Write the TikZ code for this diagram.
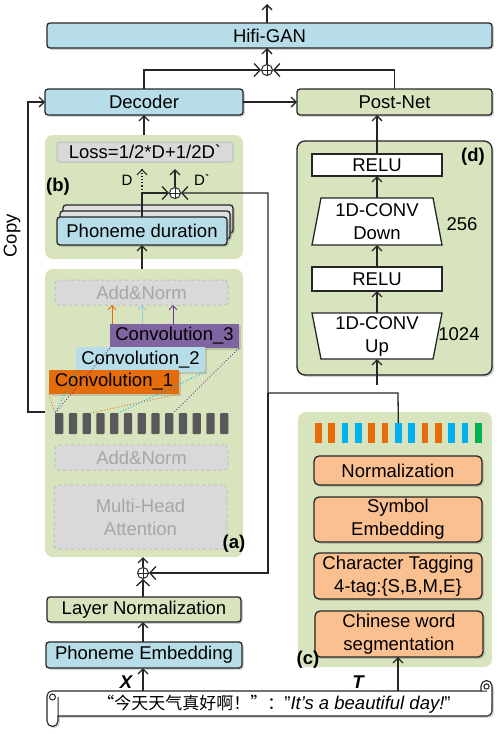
\documentclass[tikz,border=0pt]{standalone}
\usepackage{fontspec}
\setmainfont{Liberation Sans}
\newfontfamily\cjk{Noto Sans CJK SC}
\usetikzlibrary{arrows.meta,shadows,calc}
\definecolor{cblue}{HTML}{B7DDE8}
\definecolor{cgreen}{HTML}{D7E4BD}
\definecolor{cgray}{HTML}{D9D9D9}
\definecolor{cgline}{HTML}{BFBFBF}
\definecolor{cgtext}{HTML}{A6A6A6}
\definecolor{corange}{HTML}{E46C0A}
\definecolor{cpurple}{HTML}{8064A2}
\definecolor{cpurdot}{HTML}{7030A0}
\definecolor{ccyan}{HTML}{00B0F0}
\definecolor{cltblue}{HTML}{92CDDC}
\definecolor{cgbar}{HTML}{00B050}
\definecolor{csalmon}{HTML}{FAC090}
\definecolor{cdark}{HTML}{262626}
\definecolor{cdbar}{HTML}{595959}
\tikzset{
  bx/.style n args={4}{at={({(#1+#3)/2},{(#2+#4)/2})}, anchor=center,
     minimum width={(#3-#1)*1pt}, minimum height={(#4-#2)*1pt}},
  shad/.style={drop shadow={shadow xshift=1.8pt,shadow yshift=-1.8pt,opacity=0.35}},
  base/.style={draw=cdark, line width=1.3pt, rounded corners=3pt, inner sep=0pt, outer sep=0pt, align=center, text=black, shad},
  bluebox/.style={base, fill=cblue},
  greenbox/.style={base, fill=cgreen},
  salbox/.style={base, fill=csalmon, rounded corners=5pt},
  backbox/.style={base, fill=black!12},
  whitebox/.style={draw=cdark, line width=1.3pt, fill=white, inner sep=0pt, outer sep=0pt, align=center},
  bgbox/.style={fill=cgreen, rounded corners=8pt, inner sep=0pt, outer sep=0pt},
  dashbox/.style={fill=cgray, draw=cgline, dashed, line width=1pt, rounded corners=4pt, text=cgtext, inner sep=0pt, outer sep=0pt, align=center},
  lossbox/.style={fill=cgray, draw=cgline, line width=1pt, rounded corners=3pt, inner sep=0pt, outer sep=0pt, text=black},
  convbox/.style={inner sep=0pt, outer sep=0pt, text=black, drop shadow={shadow xshift=2pt,shadow yshift=-2pt,opacity=0.3}},
  abar/.style={fill=cdbar, rounded corners=1pt, inner sep=0pt, outer sep=0pt},
  cbar/.style={inner sep=0pt, outer sep=0pt},
  plain/.style={inner sep=0pt, outer sep=0pt},
  ar/.style={line width=1.3pt, draw=cdark, -{Straight Barb[length=5pt,width=10pt]}},
  oar/.style={line width=1.3pt, draw=cdark, -{Straight Barb[length=6pt,width=13pt]}},
  thinar/.style={line width=1pt, -{Straight Barb[length=4pt,width=8pt]}},
  dotl/.style={line width=0.9pt, dotted},
  lbl/.style={font=\fontsize{18.5}{23}\selectfont\bfseries, inner sep=0pt},
  small/.style={font=\fontsize{15}{18}\selectfont, inner sep=0pt},
  oplus/.style={circle, draw=cdark, line width=1pt, fill=white, minimum size=11pt, inner sep=0pt,
    path picture={\draw[line width=0.8pt] (path picture bounding box.north) -- (path picture bounding box.south)
      (path picture bounding box.west) -- (path picture bounding box.east);}},
}
\begin{document}
\begin{tikzpicture}[x=1pt,y=-1pt,font=\fontsize{18.5}{23}\selectfont]
\useasboundingbox (0,0) rectangle (502,734);

% background panels
\node[bgbox, bx={45}{135}{243}{259}] (bbox) {};
\node[bgbox, bx={45}{269}{243}{557}] (abox) {};
\node[bgbox, bx={298}{412}{492}{667}] (cbox) {};
\node[bgbox, draw=cdark, line width=1.3pt, shad, bx={297}{141}{492}{375}] (dbox) {};

% top row
\node[bluebox, bx={47}{23}{492}{48}] (hifi) {Hifi-GAN};
\node[bluebox, bx={45}{89}{243}{115}] (dec) {Decoder};
\node[greenbox, bx={297}{89}{492}{115}] (post) {Post-Net};
\node[oplus] (o1) at (267,70) {};
\coordinate (out) at (267,4);

% (b)
\node[lossbox, bx={57}{142}{233}{162}] (loss) {Loss=1/2*D+1/2D\textasciigrave};
\node[backbox, bx={63}{205}{233}{233}] (pdb) {};
\node[backbox, bx={60}{211}{230}{239}] (pdm) {};
\node[bluebox, bx={57}{217}{227}{245}] (pd) {Phoneme duration};
\node[oplus] (o2) at (175,193) {};
\coordinate (pdj) at (142,193);
\node[small] (dl) at (127,180) {D};
\node[small] (dpl) at (202,180) {D\textasciigrave};
\node[lbl] (bl) at (58,187) {(b)};

% (a)
\node[dashbox, bx={55}{280}{228}{305}] (an1) {Add\&Norm};
\foreach \i in {1,...,13}{
  \pgfmathsetmacro\xx{55+(\i-1)*13.75}
  \node[abar, bx={\xx}{413}{\xx+8.3}{434}] (bar\i) {};
}
\node[convbox, fill=cpurple, bx={110}{324}{239}{348}] (cv3) {Convolution\_3};
\node[convbox, fill=cblue, bx={76}{347}{205}{372}] (cv2) {Convolution\_2};
\node[convbox, fill=corange, bx={49}{370}{179}{394}] (cv1) {Convolution\_1};
\draw[dotl, corange] (cv1.south west) -- (bar1.north west);
\draw[dotl, corange] (cv1.south east) -- (bar3.north east);
\draw[dotl, ccyan] (cv2.south west) -- (bar1.north west);
\draw[dotl, ccyan] (cv2.south east) -- (bar5.north east);
\draw[dotl, cpurdot] (cv3.south west) -- (bar1.north west);
\draw[dotl, cpurdot] (cv3.south east) -- (bar9.north east);
\coordinate (ca1) at (112,324);
\coordinate (ca2) at (142,324);
\coordinate (ca3) at (173,324);
\draw[thinar, corange] (ca1) -- (ca1 |- an1.south);
\draw[thinar, cltblue] (ca2) -- (ca2 |- an1.south);
\draw[thinar, cpurdot] (ca3) -- (ca3 |- an1.south);
\node[dashbox, bx={55}{445}{228}{470}] (an2) {Add\&Norm};
\node[dashbox, bx={54}{485}{227}{549}] (mha) {Multi-Head\\Attention};
\node[lbl] (al) at (234,544) {(a)};
\node[oplus] (o3) at (143,573) {};

% bottom left
\node[greenbox, bx={47}{597}{241}{622}] (ln) {Layer Normalization};
\node[bluebox, bx={46}{642}{242}{668}] (pe) {Phoneme Embedding};

% scroll
\node[plain, bx={48}{691}{492}{716}] (scroll) {};
\draw[line width=1.1pt, draw=cdark, fill=white, shad]
  (52,691) -- (481,691) -- (481,686) arc[start angle=180,end angle=0,radius=5.5pt]
  -- (492,711) arc[start angle=0,end angle=-90,radius=5pt] -- (58,716) -- (58,721)
  arc[start angle=0,end angle=-180,radius=5.5pt] -- (47,696)
  arc[start angle=180,end angle=90,radius=5pt] -- cycle;
\draw[line width=1pt, draw=cdark] (52.5,697) circle[radius=3pt] (58,697) -- (58,716)
  (486.5,686.5) circle[radius=2.6pt] (481,691) -- (487,691);
\node[plain] (stext) at (274,704) {{\cjk\fontsize{17}{20}\selectfont “今天天气真好啊！”：}"\textit{It's a beautiful day!}"};
\node[lbl, font=\fontsize{18.5}{23}\selectfont\bfseries\itshape] (xl) at (126,682) {X};
\node[lbl, font=\fontsize{18.5}{23}\selectfont\bfseries\itshape] (tl) at (358,682) {T};

% (c)
\foreach \i/\c in {1/corange,2/corange,3/ccyan,4/ccyan,5/corange,6/corange,7/ccyan,8/ccyan,9/corange,10/corange,11/ccyan,12/ccyan,13/cgbar}{
  \pgfmathsetmacro\xx{315+(\i-1)*13.33}
  \node[cbar, fill=\c, bx={\xx}{423}{\xx+6.7}{443}] (cb\i) {};
}
\node[salbox, bx={314}{456}{482}{485}] (norm) {Normalization};
\node[salbox, bx={314}{497}{482}{542}] (sym) {Symbol\\Embedding};
\node[salbox, bx={314}{553}{482}{599}] (tag) {Character Tagging\\4-tag:\{S,B,M,E\}};
\node[salbox, bx={315}{611}{483}{657}] (cws) {Chinese word\\segmentation};
\node[lbl] (cl) at (308,660) {(c)};

% (d)
\node[whitebox, bx={312}{154}{442}{176}] (relu1) {RELU};
\node[plain, bx={312}{198}{442}{245}] (down) {};
\draw[line width=1.3pt, draw=cdark, fill=white] ([xshift=9pt]down.north west) -- ([xshift=-9pt]down.north east) -- (down.south east) -- (down.south west) -- cycle;
\node[plain, align=center] (downtext) at (down) {1D-CONV\\Down};
\node[whitebox, bx={312}{267}{442}{291}] (relu2) {RELU};
\node[plain, bx={312}{313}{442}{359}] (up) {};
\draw[line width=1.3pt, draw=cdark, fill=white] (up.north west) -- (up.north east) -- ([xshift=-9pt]up.south east) -- ([xshift=9pt]up.south west) -- cycle;
\node[plain, align=center] (uptext) at (up) {1D-CONV\\Up};
\node[plain] (n256) at (462,224) {256};
\node[plain] (n1024) at (459,334) {1024};
\node[lbl] (dl2) at (473,157) {(d)};
\coordinate (din) at (377,385);

% connectors
\draw[ar] (o1 |- hifi.north) -- (out);
\draw[ar] (o1) -- (o1 |- hifi.south);
\draw[oar] (dec.north) |- (o1);
\draw[oar] (post.north) |- (o1);
\draw[ar] (dec) -- (post);
\draw[ar] (bbox.north -| dec) -- (dec.south);
\coordinate (cs) at (45,412);
\coordinate (ccorner) at (28,412);
\draw[ar] (cs) -- (ccorner) |- (dec.west);
\node[rotate=90, inner sep=0pt] (copy) at (12,236) {Copy};
\draw[line width=1.2pt, draw=cdark, dotted] (pdj) -- ([yshift=-7pt]loss.south -| pdj);
\draw[line width=1.2pt, draw=cdark, -{Straight Barb[length=5pt,width=10pt]}] ([yshift=-8pt]loss.south -| pdj) -- ([yshift=-7pt]loss.south -| pdj);
\draw[ar] (o2) -- ([yshift=-7pt]loss.south -| o2);
\draw[oar] (pd.north) |- (o2);
\draw[ar] (abox.north -| pd) -- (pd.south);
\coordinate (t1) at (398,393);
\coordinate (t2) at (268,393);
\draw[oar] (cb7.north) -- (t1) -- (t2) |- (o2);
\draw[oar] (t2) |- (o3);
\draw[ar] (o3) -- (o3 |- abox.south);
\draw[oar] (ln.north -| o3) -- (o3);
\draw[ar] (pe.north -| o3) -- (ln.south -| o3);
\draw[ar] (scroll.north -| o3) -- (pe.south -| o3);
\draw[ar] (scroll.north -| t1) -- (cws.south -| t1);
\draw[ar] (din) -- (up.south);
\draw[ar] (up.north) -- (relu2.south);
\draw[ar] (relu2.north) -- (down.south);
\draw[ar] (down.north) -- (relu1.south);
\draw[ar] (relu1.north) -- (relu1.north |- post.south);
\end{tikzpicture}
\end{document}
